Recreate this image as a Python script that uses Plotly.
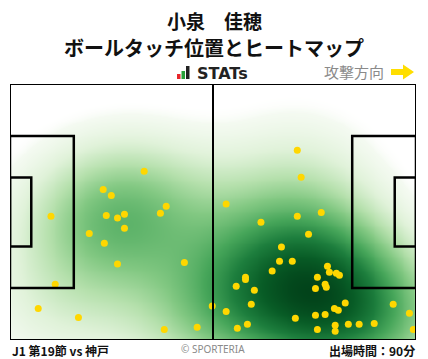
import numpy as np
import plotly.graph_objects as go

# ---- data (pitch coordinates, 105 x 68, attack direction -> right) ----
touch_x = [34.7, 24.1, 26.2, 10.6, 24.9, 27.8, 29.6, 38.9, 40.4, 20.5,
           29.6, 24.4, 27.8, 45.1, 11.7, 7.3, 17.7, 39.9, 48.4, 52.3,
           74.3, 75.3, 55.9, 74.3, 80.5, 64.9, 77.2, 70.2, 69.7, 73.0,
           67.8, 82.1, 82.6, 84.4, 85.2, 60.9, 60.9, 58.5, 63.2, 79.5,
           81.5, 81.8, 79.0, 62.4, 55.9, 86.7, 83.9, 84.9, 99.1, 103.3,
           73.8, 79.0, 81.5, 58.8, 61.4, 79.5, 84.1, 84.1, 87.5, 90.3,
           94.2, 104.3]
touch_y = [44.8, 40.0, 38.4, 32.9, 33.1, 32.4, 33.4, 33.7, 35.5, 28.3,
           29.7, 25.7, 20.2, 20.6, 14.8, 8.4, 6.0, 2.8, 3.4, 9.0,
           50.4, 43.2, 36.1, 32.9, 33.9, 31.3, 28.1, 24.7, 20.9, 20.9,
           18.3, 19.6, 18.0, 17.7, 17.2, 16.7, 16.1, 14.3, 13.2, 16.7,
           14.8, 14.0, 13.7, 9.5, 7.6, 9.8, 8.4, 7.9, 9.5, 7.1,
           5.8, 6.6, 6.8, 3.1, 4.2, 2.8, 3.9, 2.3, 4.2, 4.2,
           4.4, 2.8]

player_name = "小泉　佳穂"
chart_title = "ボールタッチ位置とヒートマップ"
match_label = "J1 第19節 vs 神戸"
minutes_label = "出場時間：90分"
pitch_len, pitch_wid = 105.0, 68.0

# ---- density (gaussian kernel estimate of the touches) ----
gx = np.linspace(0, pitch_len, 141)
gy = np.linspace(0, pitch_wid, 92)
GX, GY = np.meshgrid(gx, gy)
px = np.array(touch_x)
py = np.array(touch_y)
sx, sy = 14.0, 12.0
Z = np.zeros_like(GX)
for a, b in zip(px, py):
    Z += np.exp(-(((GX - a) / sx) ** 2 + ((GY - b) / sy) ** 2) / 2)
Z = Z / Z.max()

colorscale = [
    [0.0, "rgba(255,255,255,0)"],
    [0.03, "#f4faf1"],
    [0.12, "#e0f2d9"],
    [0.24, "#b5e0ac"],
    [0.36, "#82c882"],
    [0.52, "#47a65a"],
    [0.68, "#1d7e3d"],
    [0.85, "#085c26"],
    [1.0, "#02431a"],
]

fig = go.Figure()
fig.add_trace(go.Heatmap(x=gx, y=gy, z=Z, colorscale=colorscale, zmin=0.03, zmax=1,
                         showscale=False, zsmooth="best", hoverinfo="skip"))
fig.add_trace(go.Scatter(x=touch_x, y=touch_y, mode="markers",
                         marker=dict(color="#FFD700", size=7, line=dict(width=0)),
                         hoverinfo="skip"))

# ---- pitch markings ----
L = pitch_len
W = pitch_wid
pb_d, pb_w = 16.5, 40.32
ga_d, ga_w = 5.5, 18.32
shapes = []
def rect(x0, y0, x1, y1, w):
    shapes.append(dict(type="rect", x0=x0, y0=y0, x1=x1, y1=y1, xref="x", yref="y",
                       line=dict(color="black", width=w), fillcolor="rgba(0,0,0,0)", layer="above"))
rect(0, 0, L, W, 2)
rect(0, W / 2 - pb_w / 2, pb_d, W / 2 + pb_w / 2, 2.5)
rect(0, W / 2 - ga_w / 2, ga_d, W / 2 + ga_w / 2, 2.5)
rect(L - pb_d, W / 2 - pb_w / 2, L, W / 2 + pb_w / 2, 2.5)
rect(L - ga_d, W / 2 - ga_w / 2, L, W / 2 + ga_w / 2, 2.5)
shapes.append(dict(type="line", x0=L / 2, x1=L / 2, y0=0, y1=W, xref="x", yref="y",
                   line=dict(color="black", width=2), layer="above"))

# ---- header decorations (paper coords) ----
H = 359.0
Wd = 428.0
def py2(p):
    return 1 - p / H
def px2(p):
    return p / Wd
# STATs logo bars
for (x0, x1, y0, col) in [(177, 180.5, 74, "#e8262b"), (181.5, 185, 71, "#2aa13a"), (186, 189.5, 66, "#222222")]:
    shapes.append(dict(type="rect", xref="paper", yref="paper",
                       x0=px2(x0), x1=px2(x1), y0=py2(79), y1=py2(y0),
                       line=dict(width=0), fillcolor=col))
# direction arrow
ax0, ax1, axm = 391, 414, 403
path = (f"M {px2(ax0)},{py2(69)} L {px2(axm)},{py2(69)} L {px2(axm)},{py2(64.5)} "
        f"L {px2(ax1)},{py2(72)} L {px2(axm)},{py2(79.5)} L {px2(axm)},{py2(75)} "
        f"L {px2(ax0)},{py2(75)} Z")
shapes.append(dict(type="path", xref="paper", yref="paper", path=path,
                   line=dict(width=0), fillcolor="#FFDE00"))

font_jp = "Noto Sans CJK JP"
ann = [
    dict(text=f"<b>{player_name}</b>", x=0.5, y=py2(20), xref="paper", yref="paper",
         showarrow=False, font=dict(family=font_jp, size=19, color="#111"), xanchor="center", yanchor="middle"),
    dict(text=f"<b>{chart_title}</b>", x=0.5, y=py2(47), xref="paper", yref="paper",
         showarrow=False, font=dict(family=font_jp, size=20, color="#111"), xanchor="center", yanchor="middle"),
    dict(text="<b>STATs</b>", x=px2(195), y=py2(73), xref="paper", yref="paper",
         showarrow=False, font=dict(family="DejaVu Sans", size=16, color="#222"), xanchor="left", yanchor="middle"),
    dict(text="攻撃方向", x=px2(386), y=py2(72), xref="paper", yref="paper",
         showarrow=False, font=dict(family=font_jp, size=15, color="#8a8a8a"), xanchor="right", yanchor="middle"),
    dict(text=f"<b>{match_label}</b>", x=px2(10), y=py2(350), xref="paper", yref="paper",
         showarrow=False, font=dict(family=font_jp, size=12, color="#111"), xanchor="left", yanchor="middle"),
    dict(text="© SPORTERIA", x=px2(213), y=py2(349), xref="paper", yref="paper",
         showarrow=False, font=dict(family="Noto Sans", size=10, color="#8a8a8a"), xanchor="center", yanchor="middle"),
    dict(text=f"<b>{minutes_label}</b>", x=px2(417), y=py2(350), xref="paper", yref="paper",
         showarrow=False, font=dict(family=font_jp, size=12, color="#111"), xanchor="right", yanchor="middle"),
]

fig.update_layout(
    width=428, height=359,
    margin=dict(l=0, r=0, t=0, b=0),
    paper_bgcolor="white", plot_bgcolor="white",
    showlegend=False,
    xaxis=dict(range=[0, L], domain=[10 / Wd, 416 / Wd], visible=False, fixedrange=True),
    yaxis=dict(range=[0, W], domain=[1 - 340 / H, 1 - 84 / H], visible=False, fixedrange=True),
    shapes=shapes,
    annotations=ann,
)
fig.write_html("out.html", config={"displayModeBar": False},
               post_script="document.body.style.margin='0';document.body.style.padding='0';document.body.style.overflow='hidden';")
